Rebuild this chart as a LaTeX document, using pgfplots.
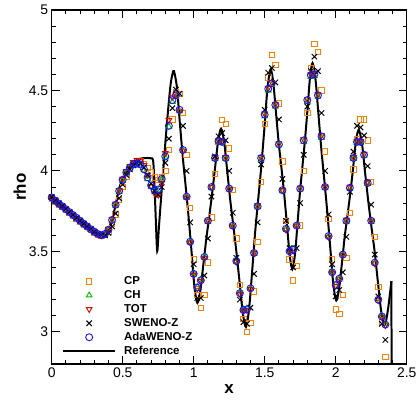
\documentclass[border=0pt]{standalone}
\usepackage{pgfplots}
\pgfplotsset{compat=1.18}
\usepackage{fontspec}
\setmainfont{Liberation Sans}
\definecolor{cporange}{RGB}{255,128,0}
\definecolor{chgreen}{RGB}{0,190,0}
\definecolor{totred}{RGB}{215,0,0}
\definecolor{adablue}{RGB}{20,20,255}
\begin{document}
\begin{tikzpicture}
\begin{axis}[
  scale only axis, width=355bp, height=354bp,
  xmin=0, xmax=2.5, ymin=2.8, ymax=5,
  xtick={0,0.5,1,1.5,2,2.5}, ytick={3,3.5,4,4.5,5},
  minor x tick num=4, minor y tick num=4,
  tick align=inside,
  major tick length=8bp, minor tick length=4bp,
  every tick/.append style={black, line width=0.9pt},
  axis line style={line width=1.3pt},
  tick label style={font=\fontsize{14}{16}\selectfont},
  /pgf/number format/assume math mode=true,
  xlabel={x}, ylabel={rho},
  label style={font=\bfseries\fontsize{17}{19}\selectfont},
  xlabel style={at={(axis description cs:0.5,-0.0706)}, anchor=center},
  ylabel style={at={(axis description cs:-0.09,0.5)}, anchor=center},
  legend image code/.code={\draw[mark repeat=2,mark phase=2,#1] plot coordinates {(0bp,0bp) (26bp,0bp) (52bp,0bp)}; \path (59bp,0bp);},
  legend cell align=left,
  legend style={at={(axis description cs:0.029,0.254)}, anchor=north west, draw=none, fill=none, inner sep=0pt,
    row sep=0pt, font=\bfseries\fontsize{11.5}{13}\selectfont,
    nodes={inner sep=1pt, text height=9bp, text depth=3bp}},
]
% CP
\addplot[only marks, mark=square, mark size=2.7bp, cporange, mark options={line width=0.9pt}] coordinates {
(0.000,3.830)(0.025,3.810)(0.050,3.792)(0.075,3.775)(0.100,3.757)(0.125,3.739)(0.150,3.721)(0.175,3.703)
(0.200,3.686)(0.225,3.668)(0.250,3.651)(0.275,3.634)(0.300,3.618)(0.325,3.604)(0.350,3.598)(0.375,3.605)
(0.400,3.625)(0.425,3.670)(0.450,3.730)(0.475,3.820)(0.500,3.900)(0.525,3.965)(0.550,4.015)(0.575,4.045)
(0.600,4.060)(0.625,4.060)(0.650,4.045)(0.675,4.020)(0.700,3.990)(0.725,3.960)(0.750,3.945)(0.775,3.960)
(0.800,4.000)(0.825,4.130)(0.850,4.320)(0.875,4.490)(0.900,4.480)(0.925,4.360)(0.950,4.100)(0.975,3.770)
(1.000,3.450)(1.025,3.230)(1.050,3.150)(1.075,3.230)(1.100,3.430)(1.125,3.710)(1.150,3.980)(1.175,4.180)
(1.200,4.315)(1.225,4.290)(1.250,4.140)(1.275,3.880)(1.300,3.580)(1.325,3.290)(1.350,3.080)(1.375,3.000)
(1.400,3.055)(1.425,3.250)(1.450,3.560)(1.475,3.930)(1.500,4.290)(1.525,4.580)(1.550,4.720)(1.575,4.660)
(1.600,4.420)(1.625,4.060)(1.650,3.690)(1.675,3.450)(1.700,3.320)(1.725,3.410)(1.750,3.660)(1.775,4.000)
(1.800,4.360)(1.825,4.640)(1.850,4.790)(1.875,4.740)(1.900,4.500)(1.925,4.120)(1.950,3.700)(1.975,3.450)
(2.000,3.140)(2.025,3.110)(2.050,3.230)(2.075,3.460)(2.100,3.740)(2.125,4.010)(2.150,4.200)(2.175,4.320)
(2.200,4.320)(2.225,4.190)(2.250,3.930)(2.275,3.590)(2.300,3.280)(2.325,3.060)(2.350,2.845)
};
\addlegendentry{CP}
% CH
\addplot[only marks, mark=triangle, mark size=3.2bp, chgreen, mark options={line width=0.9pt}] coordinates {
(0.000,3.833)(0.025,3.813)(0.050,3.795)(0.075,3.778)(0.100,3.760)(0.125,3.742)(0.150,3.724)(0.175,3.706)
(0.200,3.688)(0.225,3.670)(0.250,3.653)(0.275,3.636)(0.300,3.620)(0.325,3.606)(0.350,3.598)(0.375,3.606)
(0.400,3.632)(0.425,3.690)(0.450,3.785)(0.475,3.870)(0.500,3.940)(0.525,3.988)(0.550,4.020)(0.575,4.042)
(0.600,4.048)(0.625,4.040)(0.650,4.005)(0.675,3.950)(0.700,3.900)(0.725,3.872)(0.750,3.880)(0.775,3.945)
(0.800,4.085)(0.825,4.275)(0.850,4.430)(0.875,4.460)(0.900,4.370)(0.925,4.125)(0.950,3.835)(0.975,3.560)
(1.000,3.365)(1.025,3.280)(1.050,3.325)(1.075,3.465)(1.100,3.685)(1.125,3.895)(1.150,4.075)(1.175,4.180)
(1.200,4.175)(1.225,4.075)(1.250,3.885)(1.275,3.655)(1.300,3.440)(1.325,3.245)(1.350,3.140)(1.375,3.145)
(1.400,3.270)(1.425,3.485)(1.450,3.775)(1.475,4.070)(1.500,4.340)(1.525,4.500)(1.550,4.535)(1.575,4.400)
(1.600,4.160)(1.625,3.875)(1.650,3.640)(1.675,3.505)(1.700,3.515)(1.725,3.660)(1.750,3.885)(1.775,4.180)
(1.800,4.430)(1.825,4.585)(1.850,4.590)(1.875,4.460)(1.900,4.205)(1.925,3.895)(1.950,3.595)(1.975,3.375)
(2.000,3.295)(2.025,3.335)(2.050,3.480)(2.075,3.685)(2.100,3.890)(2.125,4.075)(2.150,4.175)(2.175,4.175)
(2.200,4.095)(2.225,3.920)(2.250,3.685)(2.275,3.430)(2.300,3.205)(2.325,3.100)(2.350,3.050)
};
\addlegendentry{CH}
% TOT
\addplot[only marks, mark=triangle, mark size=3.2bp, totred, mark options={rotate=180, line width=0.9pt}] coordinates {
(0.000,3.835)(0.025,3.815)(0.050,3.797)(0.075,3.779)(0.100,3.761)(0.125,3.743)(0.150,3.725)(0.175,3.707)
(0.200,3.689)(0.225,3.671)(0.250,3.654)(0.275,3.637)(0.300,3.621)(0.325,3.607)(0.350,3.600)(0.375,3.610)
(0.400,3.640)(0.425,3.700)(0.450,3.795)(0.475,3.880)(0.500,3.950)(0.525,3.998)(0.550,4.030)(0.575,4.055)
(0.600,4.068)(0.625,4.065)(0.650,4.035)(0.675,3.975)(0.700,3.905)(0.725,3.860)(0.750,3.850)(0.775,3.925)
(0.800,4.110)(0.825,4.315)(0.850,4.460)(0.875,4.475)(0.900,4.375)(0.925,4.125)(0.950,3.835)(0.975,3.555)
(1.000,3.355)(1.025,3.270)(1.050,3.315)(1.075,3.460)(1.100,3.690)(1.125,3.900)(1.150,4.085)(1.175,4.190)
(1.200,4.185)(1.225,4.085)(1.250,3.890)(1.275,3.660)(1.300,3.435)(1.325,3.235)(1.350,3.130)(1.375,3.135)
(1.400,3.265)(1.425,3.490)(1.450,3.785)(1.475,4.085)(1.500,4.355)(1.525,4.515)(1.550,4.550)(1.575,4.415)
(1.600,4.170)(1.625,3.880)(1.650,3.635)(1.675,3.495)(1.700,3.505)(1.725,3.660)(1.750,3.895)(1.775,4.195)
(1.800,4.445)(1.825,4.600)(1.850,4.605)(1.875,4.475)(1.900,4.220)(1.925,3.900)(1.950,3.590)(1.975,3.365)
(2.000,3.285)(2.025,3.325)(2.050,3.480)(2.075,3.695)(2.100,3.900)(2.125,4.085)(2.150,4.185)(2.175,4.185)
(2.200,4.105)(2.225,3.930)(2.250,3.690)(2.275,3.425)(2.300,3.195)(2.325,3.090)(2.350,3.040)
};
\addlegendentry{TOT}
% SWENO-Z
\addplot[only marks, mark=x, mark size=3.8bp, black, mark options={line width=1pt}] coordinates {
(0.000,3.838)(0.025,3.817)(0.050,3.799)(0.075,3.781)(0.100,3.763)(0.125,3.745)(0.150,3.727)(0.175,3.709)
(0.200,3.691)(0.225,3.673)(0.250,3.656)(0.275,3.639)(0.300,3.623)(0.325,3.609)(0.350,3.601)(0.375,3.600)
(0.400,3.615)(0.425,3.655)(0.450,3.735)(0.475,3.830)(0.500,3.915)(0.525,3.975)(0.550,4.010)(0.575,4.035)
(0.600,4.050)(0.625,4.045)(0.650,4.020)(0.675,3.975)(0.700,3.920)(0.725,3.875)(0.750,3.850)(0.775,3.900)
(0.800,4.050)(0.825,4.200)(0.850,4.390)(0.875,4.505)(0.900,4.480)(0.925,4.280)(0.950,4.000)(0.975,3.680)
(1.000,3.420)(1.025,3.210)(1.050,3.210)(1.075,3.350)(1.100,3.580)(1.125,3.840)(1.150,4.090)(1.175,4.215)
(1.200,4.235)(1.225,4.190)(1.250,4.000)(1.275,3.740)(1.300,3.460)(1.325,3.200)(1.350,3.060)(1.375,3.050)
(1.400,3.150)(1.425,3.360)(1.450,3.680)(1.475,4.040)(1.500,4.380)(1.525,4.610)(1.550,4.640)(1.575,4.550)
(1.600,4.320)(1.625,3.950)(1.650,3.690)(1.675,3.520)(1.700,3.400)(1.725,3.520)(1.750,3.800)(1.775,4.100)
(1.800,4.400)(1.825,4.620)(1.850,4.710)(1.875,4.620)(1.900,4.360)(1.925,4.000)(1.950,3.730)(1.975,3.420)
(2.000,3.220)(2.025,3.260)(2.050,3.370)(2.075,3.590)(2.100,3.870)(2.125,4.120)(2.150,4.280)(2.175,4.270)
(2.200,4.220)(2.225,4.030)(2.250,3.790)(2.275,3.480)(2.300,3.220)(2.325,3.050)(2.350,2.950)
};
\addlegendentry{SWENO-Z}
% AdaWENO-Z
\addplot[only marks, mark=o, mark size=3.5bp, adablue, mark options={line width=0.9pt}] coordinates {
(0.000,3.835)(0.025,3.815)(0.050,3.797)(0.075,3.780)(0.100,3.762)(0.125,3.744)(0.150,3.726)(0.175,3.708)
(0.200,3.690)(0.225,3.672)(0.250,3.655)(0.275,3.638)(0.300,3.622)(0.325,3.608)(0.350,3.600)(0.375,3.608)
(0.400,3.635)(0.425,3.695)(0.450,3.790)(0.475,3.875)(0.500,3.945)(0.525,3.990)(0.550,4.020)(0.575,4.040)
(0.600,4.045)(0.625,4.040)(0.650,4.010)(0.675,3.960)(0.700,3.910)(0.725,3.880)(0.750,3.885)(0.775,3.950)
(0.800,4.090)(0.825,4.280)(0.850,4.440)(0.875,4.470)(0.900,4.380)(0.925,4.130)(0.950,3.840)(0.975,3.560)
(1.000,3.360)(1.025,3.275)(1.050,3.320)(1.075,3.465)(1.100,3.690)(1.125,3.900)(1.150,4.080)(1.175,4.185)
(1.200,4.180)(1.225,4.080)(1.250,3.890)(1.275,3.660)(1.300,3.440)(1.325,3.240)(1.350,3.135)(1.375,3.140)
(1.400,3.270)(1.425,3.490)(1.450,3.780)(1.475,4.080)(1.500,4.350)(1.525,4.510)(1.550,4.545)(1.575,4.410)
(1.600,4.165)(1.625,3.880)(1.650,3.640)(1.675,3.500)(1.700,3.510)(1.725,3.660)(1.750,3.890)(1.775,4.190)
(1.800,4.440)(1.825,4.595)(1.850,4.600)(1.875,4.470)(1.900,4.215)(1.925,3.900)(1.950,3.595)(1.975,3.370)
(2.000,3.290)(2.025,3.330)(2.050,3.480)(2.075,3.690)(2.100,3.895)(2.125,4.080)(2.150,4.180)(2.175,4.180)
(2.200,4.100)(2.225,3.925)(2.250,3.690)(2.275,3.430)(2.300,3.200)(2.325,3.095)(2.350,3.045)
};
\addlegendentry{AdaWENO-Z}
% Reference
\addplot[black, line width=2pt, smooth, tension=0.5, mark=none] coordinates {
(0.000,3.843)(0.050,3.800)(0.100,3.762)(0.150,3.725)(0.200,3.688)(0.250,3.652)(0.300,3.620)(0.340,3.600)
(0.370,3.603)(0.400,3.630)(0.425,3.690)(0.450,3.790)(0.475,3.890)(0.500,3.955)(0.525,3.995)(0.550,4.030)
(0.600,4.068)(0.650,4.080)(0.700,4.078)(0.714,4.065)(0.722,3.950)(0.733,3.700)(0.743,3.500)(0.755,3.650)
(0.772,3.850)(0.786,4.010)(0.810,4.280)(0.835,4.520)(0.850,4.600)(0.861,4.620)
(0.882,4.519)(0.902,4.303)(0.923,4.087)(0.944,3.900)(0.964,3.713)(0.985,3.497)(1.005,3.281)(1.026,3.180)
(1.047,3.256)(1.068,3.418)(1.089,3.580)(1.110,3.721)(1.130,3.862)(1.151,4.024)(1.172,4.186)(1.193,4.262)
(1.215,4.176)(1.237,3.991)(1.259,3.806)(1.281,3.646)(1.302,3.486)(1.324,3.301)(1.346,3.116)(1.368,3.030)
(1.390,3.142)(1.412,3.382)(1.433,3.622)(1.455,3.830)(1.477,4.038)(1.499,4.278)(1.520,4.518)(1.542,4.630)
(1.561,4.543)(1.580,4.357)(1.599,4.171)(1.619,4.010)(1.638,3.849)(1.657,3.663)(1.676,3.477)(1.695,3.390)
(1.713,3.480)(1.731,3.672)(1.748,3.864)(1.766,4.030)(1.784,4.196)(1.802,4.388)(1.819,4.580)(1.837,4.670)
(1.858,4.567)(1.879,4.346)(1.900,4.124)(1.921,3.933)(1.941,3.741)(1.962,3.520)(1.983,3.298)(2.004,3.195)
(2.024,3.269)(2.044,3.428)(2.063,3.587)(2.083,3.725)(2.103,3.863)(2.123,4.022)(2.142,4.181)(2.162,4.255)
(2.185,4.170)(2.207,3.989)(2.230,3.807)(2.252,3.650)(2.275,3.493)(2.297,3.311)(2.320,3.130)(2.342,3.045)
(2.355,3.070)(2.370,3.150)(2.385,3.260)(2.392,3.315)
};
\addlegendentry{Reference}
\addplot[black, line width=2pt, mark=none, forget plot] coordinates {(2.392,3.315)(2.394,2.700)};
\end{axis}
\pgfresetboundingbox
\path (current axis.south west) ++(-51.7bp,-38bp) rectangle ++(419bp,402bp);
\end{tikzpicture}
\end{document}
